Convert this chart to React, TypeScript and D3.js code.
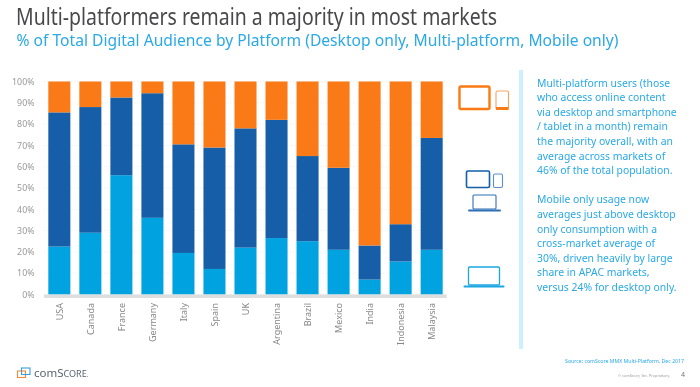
import React from "react";
import * as d3 from "d3";

const markets = ["USA","Canada","France","Germany","Italy","Spain","UK","Argentina","Brazil","Mexico","India","Indonesia","Malaysia"];
const desktopOnly = [22.5,29,56,36,19.5,12,22,26.5,25,21,7,15.5,21];
const multiPlatform = [63,59,36.5,58.5,51,57,56,55.5,40,38.5,16,17.5,52.5];
const mobileOnly = [14.5,12,7.5,5.5,29.5,31,22,18,35,40.5,77,67,26.5];
const yTicks = [0,10,20,30,40,50,60,70,80,90,100];
const seriesKeys = ["desktop","multi","mobile"];
const seriesColors = ["#00a3e0","#135fa8","#f97a14"];
const bodyLines = [
  "Multi-platform users (those","who access online content","via desktop and smartphone","/ tablet in a month) remain","the majority overall, with an","average across markets of","46% of the total population.","",
  "Mobile only usage now","averages just above desktop","only consumption with a","cross-market average of","30%, driven heavily by large","share in APAC markets,","versus 24% for desktop only."
];

const FONT = "'Noto Sans', 'Open Sans', sans-serif";
const W = 700, H = 387;

function Laptop({x,y,w,h,color,sw}:{x:number;y:number;w:number;h:number;color:string;sw:number}) {
  return <g fill="none" stroke={color}>
    <rect x={x} y={y} width={w} height={h} strokeWidth={sw} rx={1}/>
    <path d={`M${x-4},${y+h+1.5}H${x+w+4}`} strokeWidth={sw+0.8} strokeLinecap="round"/>
  </g>;
}
function Device({x,y,w,h,color,sw}:{x:number;y:number;w:number;h:number;color:string;sw:number}) {
  return <rect x={x} y={y} width={w} height={h} rx={1.5} fill="none" stroke={color} strokeWidth={sw}/>;
}

export default function App() {
  const x = d3.scaleBand<string>().domain(markets).range([44.6,446.4]).paddingInner(0.29).paddingOuter(0.12);
  const y = d3.scaleLinear().domain([0,100]).range([294.5,81.5]);
  const rows = markets.map((m,i)=>({m,desktop:desktopOnly[i],multi:multiPlatform[i],mobile:mobileOnly[i]}));
  const stack = d3.stack<any>().keys(seriesKeys)(rows);
  return (
    <svg width={W} height={H} viewBox={`0 0 ${W} ${H}`} style={{position:"absolute",left:0,top:0,background:"#fff"}} fontFamily={FONT}>
      <defs><filter id="soft" x="-2%" y="-2%" width="104%" height="104%"><feGaussianBlur stdDeviation="0.3"/></filter></defs>
      <g filter="url(#soft)">
      <text x={16} y={25} fontSize={23} fill="#4a4a4c" textLength={481} lengthAdjust="spacingAndGlyphs">Multi-platformers remain a majority in most markets</text>
      <text x={16.5} y={46} fontSize={16.4} fill="#2aa9e6" textLength={602} lengthAdjust="spacingAndGlyphs">% of Total Digital Audience by Platform (Desktop only, Multi-platform, Mobile only)</text>

      {yTicks.map(t=><g key={t}>
        <line x1={44} x2={446} y1={y(t)} y2={y(t)} stroke="#e8e8e8" strokeWidth={0.6} strokeDasharray="1.5 1.5"/>
        <text x={34.5} y={y(t)+3.2} textAnchor="end" fontSize={8.8} fill="#999">{t}%</text>
      </g>)}
      {stack.map((s,i)=><g key={s.key} fill={seriesColors[i]}>
        {s.map((d:any)=><rect key={d.data.m} x={x(d.data.m)} width={x.bandwidth()} y={y(d[1])} height={y(d[0])-y(d[1])}/>)}
      </g>)}
      <rect x={44} y={294.5} width={402.7} height={3.5} fill="#dedede"/>
      {markets.map(m=>{
        const cx=(x(m) as number)+x.bandwidth()/2;
        return <text key={m} transform={`translate(${cx+3.2},303) rotate(-90)`} textAnchor="end" fontSize={9} fill="#888">{m}</text>;
      })}

      {/* platform icons */}
      <Device x={459.5} y={86.5} w={30} h={22.5} color="#f97a14" sw={2.4}/>
      <Device x={496} y={91} w={12.5} h={18.5} color="#f9a060" sw={1.1}/>
      <rect x={496} y={107} width={12.5} height={3} fill="#f97a14"/>
      <Device x={466.5} y={171} w={23} h={16.5} color="#135fa8" sw={1.6}/>
      <Device x={493.5} y={174} w={9} h={13.5} color="#5b8fc9" sw={1.1}/>
      <Laptop x={473} y={195} w={23} h={14} color="#2f6fb5" sw={1.1}/>
      <Laptop x={468.5} y={267} w={31} h={18} color="#1ba6e2" sw={1.3}/>

      {/* commentary */}
      <rect x={519} y={70} width={4} height={279} fill="#cdf0ff"/>
      <text fontSize={10.4} fill="#2aa9e6">
        {bodyLines.map((l,i)=><tspan key={i} x={537} y={86.5+i*14.6}>{l}</tspan>)}
      </text>

      {/* footer */}
      <text x={684} y={363} textAnchor="end" fontSize={5.2} fill="#2aa9e6">Source: comScore MMX Multi-Platform, Dec 2017</text>
      <text x={670} y={376.5} textAnchor="end" fontSize={3.8} fill="#999">© comScore, Inc. Proprietary.</text>
      <text x={681} y={377} fontSize={7} fill="#777">4</text>
      <g fill="none" strokeWidth={1.1}>
        <rect x={17.5} y={371} width={8} height={6.5} stroke="#f08a3c"/>
        <rect x={21.5} y={368} width={8.5} height={6.5} stroke="#3b9fd8"/>
      </g>
      <text x={34} y={377} fill="#5a6470" fontSize={11.5}>com<tspan fontSize={11.5}>S</tspan><tspan fontSize={9}>CORE</tspan><tspan fontSize={6}>.</tspan></text>
      </g>
    </svg>
  );
}
